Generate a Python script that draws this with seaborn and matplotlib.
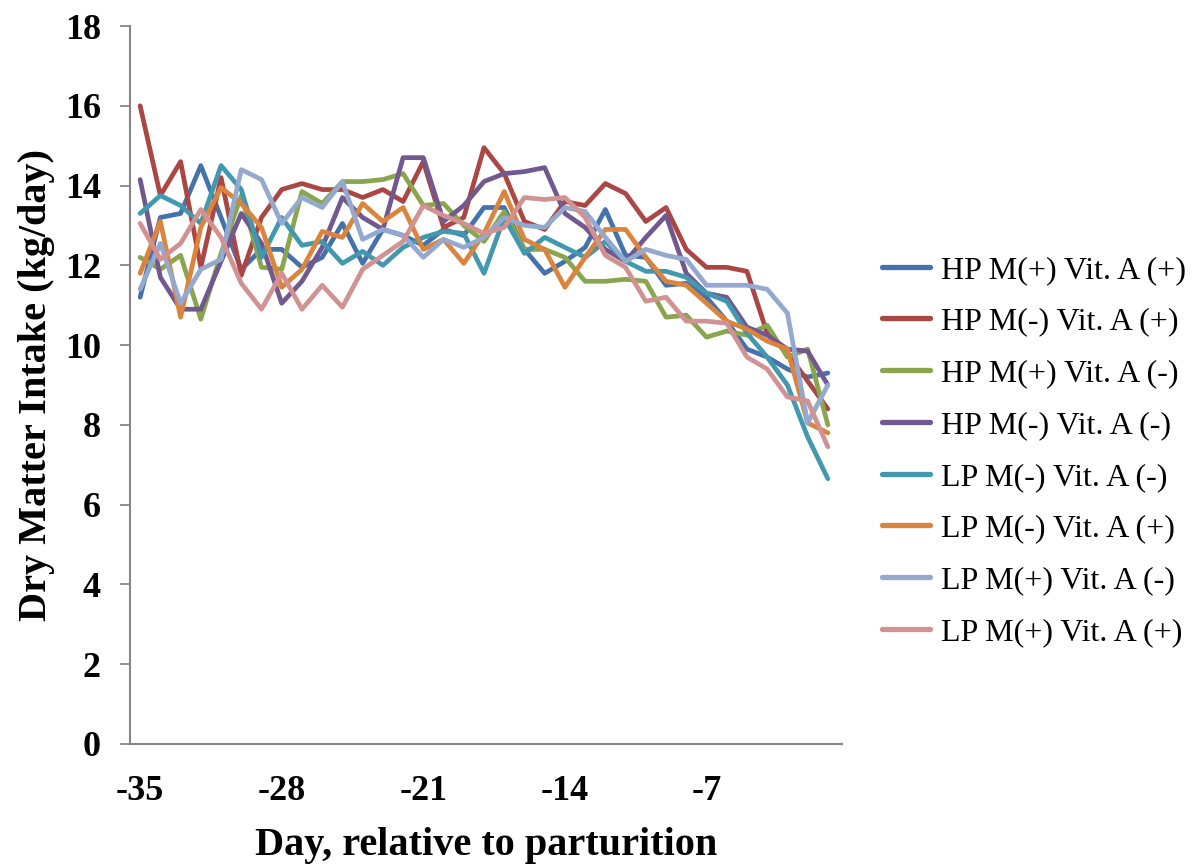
import numpy as np
import pandas as pd
import matplotlib
matplotlib.use("Agg")
import matplotlib.pyplot as plt
import seaborn as sns

days = list(range(-35, 0))

hp_mp_ap = [11.2, 13.2, 13.3, 14.5, 13.2, 11.9, 12.4, 12.4, 11.95, 12.2, 13.05, 12.05, 12.9, 12.75,
            12.5, 12.9, 12.75, 13.45, 13.45, 12.4, 11.8, 12.1, 12.45, 13.4, 12.25, 12.2, 11.5, 11.55,
            11.2, 10.6, 9.9, 9.7, 9.4, 9.2, 9.3]
hp_mm_ap = [16.0, 13.75, 14.6, 11.95, 14.2, 11.75, 13.2, 13.9, 14.05, 13.9, 13.9, 13.7, 13.9, 13.6,
            14.6, 12.95, 13.2, 14.95, 14.3, 13.1, 12.9, 13.6, 13.5, 14.05, 13.8, 13.1, 13.45, 12.4,
            11.95, 11.95, 11.85, 10.3, 9.8, 9.1, 8.4]
hp_mp_am = [12.2, 11.9, 12.25, 10.65, 12.3, 13.75, 11.95, 11.9, 13.85, 13.55, 14.1, 14.1, 14.15, 14.3,
            13.5, 13.55, 13.0, 12.6, 13.35, 12.4, 12.4, 12.2, 11.6, 11.6, 11.65, 11.6, 10.7, 10.75,
            10.2, 10.35, 10.25, 10.5, 9.7, 9.9, 8.0]
hp_mm_am = [14.15, 11.7, 10.9, 10.9, 12.1, 13.3, 12.55, 11.05, 11.6, 12.45, 13.7, 13.2, 12.9, 14.7,
            14.7, 13.1, 13.5, 14.1, 14.3, 14.35, 14.45, 13.3, 12.95, 12.4, 12.1, 12.7, 13.25, 11.8,
            11.3, 11.2, 10.45, 10.25, 9.9, 9.85, 9.0]
lp_mm_am = [13.3, 13.75, 13.5, 13.05, 14.5, 13.9, 12.2, 13.2, 12.5, 12.6, 12.05, 12.35, 12.0, 12.45,
            12.7, 12.85, 12.8, 11.8, 13.2, 12.3, 12.7, 12.45, 12.2, 12.6, 12.1, 11.85, 11.85, 11.7,
            11.3, 11.1, 10.3, 9.7, 9.0, 7.7, 6.65]
lp_mm_ap = [11.8, 13.1, 10.7, 12.95, 13.95, 13.55, 12.95, 11.45, 11.9, 12.85, 12.7, 13.55, 13.1, 13.45,
            12.4, 12.65, 12.05, 12.8, 13.85, 12.65, 12.4, 11.45, 12.2, 12.9, 12.9, 12.2, 11.6, 11.5,
            11.05, 10.6, 10.4, 10.1, 9.9, 8.05, 7.8]
lp_mp_am = [11.4, 12.55, 11.05, 11.9, 12.15, 14.4, 14.15, 13.05, 13.7, 13.45, 14.1, 12.65, 12.9, 12.75,
            12.2, 12.65, 12.45, 12.7, 13.2, 13.0, 12.95, 13.45, 13.35, 12.7, 12.1, 12.4, 12.25, 12.15,
            11.5, 11.5, 11.5, 11.4, 10.8, 8.05, 9.0]
lp_mp_ap = [13.05, 12.15, 12.55, 13.4, 12.7, 11.55, 10.9, 11.8, 10.9, 11.5, 10.95, 11.9, 12.25, 12.6,
            13.5, 13.25, 13.05, 12.8, 12.95, 13.7, 13.65, 13.7, 13.2, 12.25, 11.95, 11.1, 11.2, 10.6,
            10.6, 10.55, 9.7, 9.4, 8.7, 8.6, 7.45]

series_names = ["HP M(+) Vit. A (+)", "HP M(-) Vit. A (+)", "HP M(+) Vit. A (-)", "HP M(-) Vit. A (-)",
                "LP M(-) Vit. A (-)", "LP M(-) Vit. A (+)", "LP M(+) Vit. A (-)", "LP M(+) Vit. A (+)"]
series_values = [hp_mp_ap, hp_mm_ap, hp_mp_am, hp_mm_am, lp_mm_am, lp_mm_ap, lp_mp_am, lp_mp_ap]
colors = ["#4672AB", "#AA4643", "#89A54E", "#71588F", "#4198AF", "#DB843D", "#93A9CF", "#D19392"]

xticks = [-35, -28, -21, -14, -7]
yticks = list(range(0, 19, 2))

df = pd.concat([pd.DataFrame({"day": days, "dmi": v, "group": n})
                for n, v in zip(series_names, series_values)], ignore_index=True)

sns.set_style("white")
plt.rcParams["font.family"] = ["Liberation Serif", "DejaVu Serif"]
plt.rcParams["text.color"] = "black"
plt.rcParams["axes.labelcolor"] = "black"
plt.rcParams["xtick.color"] = "black"
plt.rcParams["ytick.color"] = "black"

fig = plt.figure(figsize=(11.94, 8.64), dpi=100)
ax = fig.add_axes([0.1089, 0.1389, 0.7052 - 0.1089, 0.9699 - 0.1389])

sns.lineplot(data=df, x="day", y="dmi", hue="group", hue_order=series_names,
             palette=colors, linewidth=3.4, ax=ax, legend=False, sort=True)

ax.set_xlim(-35.5, -0.3)
ax.set_ylim(0, 18)
ax.set_xticks(xticks)
ax.set_yticks(yticks)
ax.set_xticklabels([str(t) for t in xticks], fontsize=26, fontweight="bold")
ax.set_yticklabels([str(t) for t in yticks], fontsize=26, fontweight="bold")
ax.tick_params(axis="x", length=0, pad=22, labelcolor="black")
ax.tick_params(axis="y", length=7, width=1.3, color="#868686", direction="out", pad=14,
               left=True, labelcolor="black")

for s in ["top", "right"]:
    ax.spines[s].set_visible(False)
for s in ["left", "bottom"]:
    ax.spines[s].set_color("#868686")
    ax.spines[s].set_linewidth(1.5)

ax.set_xlabel("Day, relative to parturition", fontsize=29, fontweight="bold", labelpad=14, color="black")
ax.set_ylabel("Dry Matter Intake (kg/day)", fontsize=29, fontweight="bold", labelpad=7, color="black")

handles = [plt.Line2D([0], [0], color=c, lw=3.8) for c in colors]
leg = ax.legend(handles, series_names, loc="upper left", bbox_to_anchor=(0.728, 0.719),
                bbox_transform=fig.transFigure, frameon=False, fontsize=23,
                handlelength=1.5, handletextpad=0.35, labelspacing=0.70, borderaxespad=0)
for t in leg.get_texts():
    t.set_color("black")

fig.savefig("out.png", dpi=100)
